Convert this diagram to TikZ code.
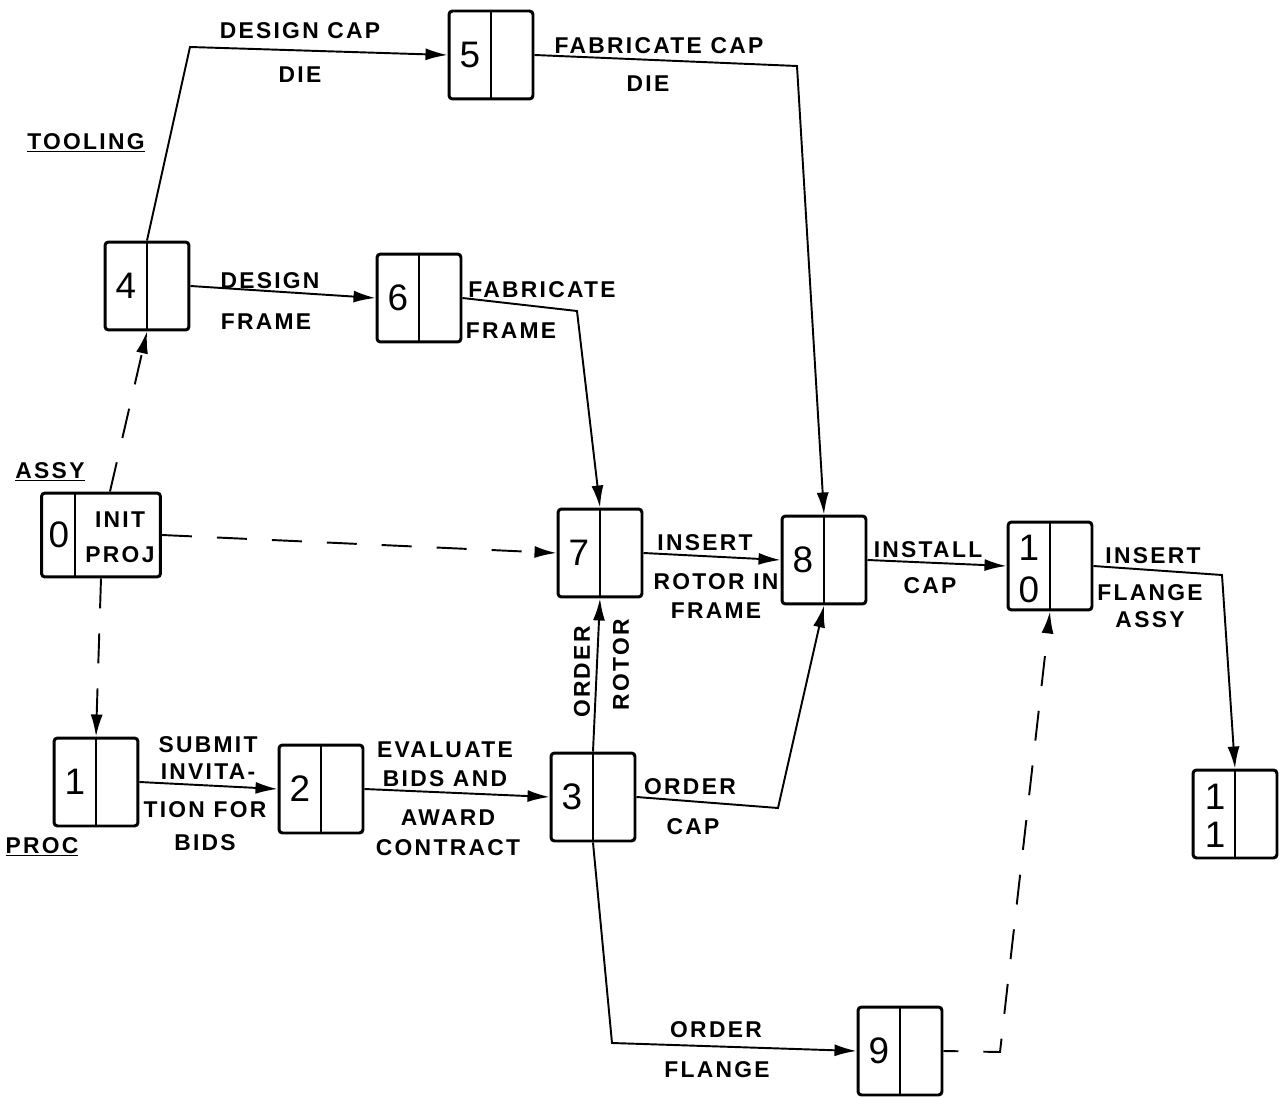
\documentclass[tikz,border=0pt]{standalone}
\usepackage{fontspec}
\setmainfont{Liberation Sans}[LetterSpace=10]
\usetikzlibrary{arrows.meta}
\begin{document}
\begin{tikzpicture}[x=0.02cm,y=-0.02cm,
  box/.style={draw, line width=1.7pt, rounded corners=2pt, minimum width=1.68cm, minimum height=1.76cm, inner sep=0pt},
  div/.style={line width=1.5pt},
  num/.style={font=\fontsize{21}{24}\selectfont, inner sep=0pt, align=center},
  lbl/.style={font=\fontsize{13}{17}\selectfont\bfseries, inner sep=0pt, align=center},
  conn/.style={line width=1.1pt, -{Latex[length=0.44cm,width=0.24cm]}},
  dconn/.style={conn, dash pattern=on 0.6cm off 0.5cm}]
\fill[white] (0,0) rectangle (1279,1098);
\useasboundingbox (0,0) rectangle (1279,1098);

% boxes
\node[box] (n5) at (491,55) {};
\node[box] (n4) at (147,286) {};
\node[box] (n6) at (419,298) {};
\node[box, minimum width=2.38cm, minimum height=1.68cm] (n0) at (101,535) {};
\node[box] (n7) at (600,553) {};
\node[box] (n8) at (824,560) {};
\node[box] (n10) at (1050,566) {};
\node[box] (n11) at (1235,814) {};
\node[box] (n1) at (96,782) {};
\node[box] (n2) at (321,789) {};
\node[box] (n3) at (593,797) {};
\node[box] (n9) at (900,1051) {};

% dividers
\foreach \b in {n5,n4,n6,n7,n8,n10,n11,n1,n2,n3,n9}
  \draw[div] (\b.north) -- (\b.south);
\draw[div] ([xshift=0.7cm]n0.north west) -- ([xshift=0.7cm]n0.south west);

% numbers
\node[num] (d5) at (470,55) {5};
\node[num] (d4) at (126,286) {4};
\node[num] (d6) at (398,298) {6};
\node[num] (d0) at (59,535) {0};
\node[num] (d7) at (579,553) {7};
\node[num] (d8) at (803,560) {8};
\node[num] (d10) at (1029,569) {1\\0};
\node[num, font=\fontsize{21}{21.5}\selectfont] (d11) at (1215,816) {1\\1};
\node[num] (d1) at (75,782) {1};
\node[num] (d2) at (300,789) {2};
\node[num] (d3) at (572,797) {3};
\node[num] (d9) at (879,1051) {9};
\node[lbl, font=\fontsize{13}{20}\selectfont\bfseries] (t0) at (120,537) {INIT\\PROJ};

% section labels
\node[lbl] (sT) at (86,143) {\underline{TOOLING}};
\node[lbl] (sA) at (50,472) {\underline{ASSY}};
\node[lbl] (sP) at (42,847) {\underline{PROC}};

% connectors
\draw[conn] (n4.north) -- (190,47) -- (n5.west);
\draw[conn] (n5.east) -- (797,66) -- (n8.north);
\draw[conn] (n4.east) -- (n6.west);
\draw[conn] (n6.east) -- (577,311) -- (n7.north);
\draw[dconn] ([xshift=0.18cm]n0.north) -- (n4.south);
\draw[dconn] (n0.east) -- (n7.west);
\draw[dconn] (n0.south) -- (n1.north);
\draw[conn] (n1.east) -- (n2.west);
\draw[conn] (n2.east) -- (n3.west);
\draw[conn] (n3.north) -- (n7.south);
\draw[conn] (n3.east) -- (778,808) -- (n8.south);
\draw[conn] (n3.south) -- (612,1043) -- (n9.west);
\draw[conn] (n7.east) -- (n8.west);
\draw[conn] (n8.east) -- (n10.west);
\draw[dconn, dash phase=0.3cm] (n9.east) -- (1000,1052) -- (n10.south);
\draw[conn] (n10.east) -- (1222,575) -- (n11.north);

% activity labels
\node[lbl] (a1) at (300,31) {DESIGN CAP};
\node[lbl] (a2) at (300,75) {DIE};
\node[lbl] (a3) at (659,46) {FABRICATE CAP};
\node[lbl] (a4) at (648,84) {DIE};
\node[lbl] (a5) at (270,281) {DESIGN};
\node[lbl] (a6) at (266,322) {FRAME};
\node[lbl] (a7) at (542,290) {FABRICATE};
\node[lbl] (a8) at (511,331) {FRAME};
\node[lbl, font=\fontsize{13}{15.5}\selectfont\bfseries] (a9) at (208,758) {SUBMIT\\INVITA-};
\node[lbl, font=\fontsize{13}{19}\selectfont\bfseries] (a10) at (205,826) {TION FOR\\BIDS};
\node[lbl, font=\fontsize{13}{16.5}\selectfont\bfseries] (a11) at (445,764) {EVALUATE\\BIDS AND};
\node[lbl] (a12) at (448,833) {AWARD\\CONTRACT};
\node[lbl, rotate=90] (a13) at (582,672) {ORDER};
\node[lbl, rotate=90] (a14) at (621,665) {ROTOR};
\node[lbl] (a15) at (705,543) {INSERT};
\node[lbl] (a16) at (716,596) {ROTOR IN\\FRAME};
\node[lbl] (a17) at (928,550) {INSTALL};
\node[lbl] (a18) at (930,586) {CAP};
\node[lbl] (a19) at (1153,556) {INSERT};
\node[lbl, font=\fontsize{13}{15.5}\selectfont\bfseries] (a20) at (1150,606) {FLANGE\\ASSY};
\node[lbl] (a21) at (690,787) {ORDER};
\node[lbl] (a22) at (693,827) {CAP};
\node[lbl] (a23) at (716,1030) {ORDER};
\node[lbl] (a24) at (717,1070) {FLANGE};
\end{tikzpicture}
\end{document}
